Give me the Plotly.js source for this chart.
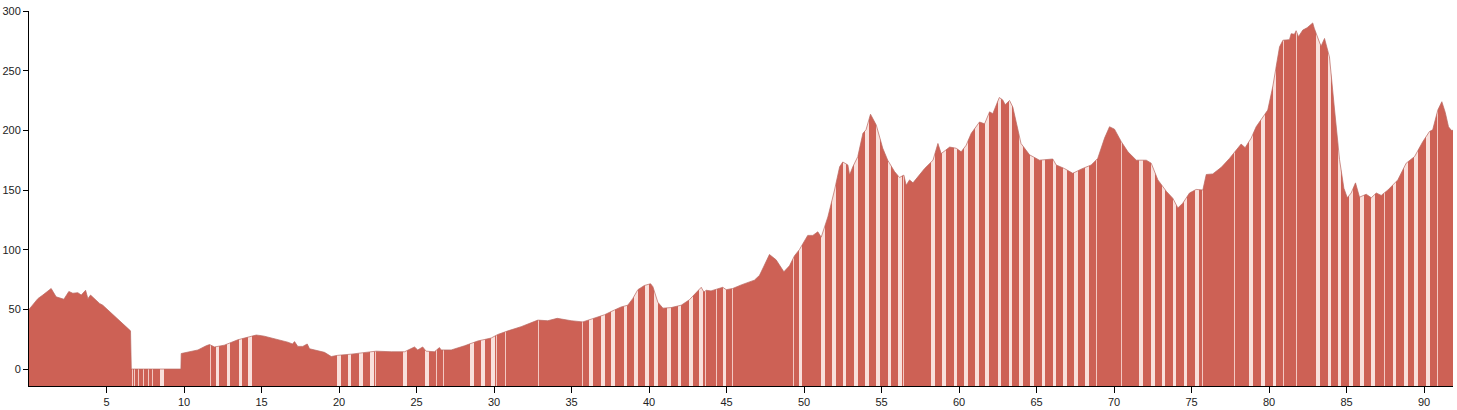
<!DOCTYPE html>
<html>
<head>
<meta charset="utf-8">
<script src="https://cdn.plot.ly/plotly-3.0.1.min.js"></script>
<style>
  html, body { margin: 0; padding: 0; background: #fff; }
  #chart { width: 1457px; height: 410px; }
</style>
</head>
<body>
<div id="chart"></div>
<script>
// Elevation profile (distance km, elevation m)
const distanceKm = [
  0, 0.57, 0.89, 1.21, 1.43, 1.75, 2.25, 2.57, 2.83, 3.15, 3.37, 3.65, 3.8, 3.97, 4.23, 4.55, 4.76,
  6.55, 6.6, 9.8, 9.82, 10.9, 11.43, 11.65, 11.97, 12.6, 13.47, 14.33, 14.66, 14.98,
  15.19, 16.7, 17.0, 17.13, 17.34, 17.66, 17.95, 18.1, 18.63, 19.06, 19.5, 19.92,
  20.79, 21.65, 22.4, 23.37, 24.23, 24.87, 25.08, 25.4, 25.62, 26.16, 26.48, 26.59,
  27.24, 28.1, 28.95, 29.82, 30.25, 30.9, 31.75, 32.83, 33.47, 34.08, 34.98, 35.73,
  36.48, 37.13, 37.77, 38.2, 38.63, 38.95, 39.28, 39.7, 40.1, 40.25, 40.57, 40.9,
  41.43, 42.08, 42.6, 43.05, 43.37, 43.54, 43.69, 44.0, 44.76, 44.98, 45.4, 45.95,
  46.48, 46.8, 47.13, 47.77, 48.2, 48.7, 49.06, 49.39, 49.7, 50.24, 50.57, 50.89,
  51.11, 51.54, 51.97, 52.3, 52.5, 52.83, 52.94, 53.15, 53.47, 53.8, 54.0, 54.29,
  54.66, 55.08, 55.4, 55.84, 56.16, 56.44, 56.59, 56.81, 57.03, 57.78, 58.32, 58.64,
  58.85, 59.4, 59.82, 60.14, 60.46, 60.79, 61.32, 61.65, 61.97, 62.18, 62.6, 62.82,
  62.98, 63.26, 63.47, 64.0, 64.55, 65.19, 66.05, 66.27, 66.8, 67.34, 67.88, 68.53,
  68.95, 69.39, 69.71, 70.03, 70.47, 70.9, 71.44, 72.08, 72.4, 72.83, 73.37, 73.8,
  74.12, 74.44, 74.87, 75.3, 75.73, 75.95, 76.37, 76.92, 77.45, 77.77, 78.2, 78.46,
  78.85, 79.17, 79.7, 79.92, 80.24, 80.68, 80.9, 81.32, 81.43, 81.64, 81.75, 81.9,
  82.18, 82.46, 82.82, 82.92, 83.25, 83.36, 83.58, 83.9, 84.23, 84.55, 84.83, 85.05,
  85.3, 85.58, 85.84, 86.27, 86.6, 86.92, 87.24, 87.67, 88.31, 88.85, 89.39, 89.92,
  90.35, 90.56, 90.89, 91.15, 91.37, 91.58, 91.76, 91.87
];
const elevation = [
  50, 59, 62, 65.5, 67.5, 60.5, 58.5, 65, 63.5, 64, 62, 66, 59, 62, 59, 55, 53.5,
  32, 0, 0, 13, 16, 19.5, 20.5, 18.5, 20, 24.5, 27.5, 28.5, 28,
  27.5, 22.5, 21, 23, 19, 19, 21, 17, 15.5, 14, 10.5, 11.5,
  12.5, 13.5, 15, 14.5, 14.5, 18.5, 16, 18.5, 15, 14.5, 18, 16,
  16, 19.5, 23.5, 26, 29, 32, 35.5, 41, 40.5, 42.5, 40.5, 39.5,
  42.5, 45.5, 49.5, 52, 53.5, 59, 66.5, 70, 71.5, 69, 56, 51,
  51.5, 53.5, 58, 64.5, 68.5, 64.5, 66, 65.5, 68.5, 66.5, 67.5, 70.5,
  73, 74.5, 78.5, 96, 91.5, 81.5, 86.5, 95, 100, 112, 112, 115,
  110.5, 127.5, 150, 169.5, 173.5, 171, 162.5, 169.5, 178, 197.5, 200.5, 213.5,
  204.5, 185, 175, 165.5, 160.5, 162.5, 154, 158.5, 156, 168, 175, 189,
  180.5, 186, 185, 182, 187.5, 197.5, 207, 205.5, 215.5, 214, 227.5, 225.5,
  221.5, 225, 219.5, 189, 179.5, 175, 176, 171, 168, 164, 167.5, 171,
  176.5, 193.5, 203, 201, 190.5, 182, 175, 175, 172.5, 158.5, 149, 143,
  135, 139, 147.5, 150.5, 150, 163, 163.5, 169, 176.5, 182, 188.5, 185.5,
  193.5, 203, 213, 217, 236.5, 270, 275.5, 276, 281, 280.5, 283.5, 278.5,
  284, 286, 290, 285.5, 274, 270.5, 277, 261.5, 217, 175.5, 151.5, 143.5,
  147.5, 156, 144, 146.5, 143.5, 147.5, 145.5, 150, 158.5, 172.5, 178, 190.5,
  199, 200.5, 217, 224, 215, 203, 200, 200
];

// Positions (km) of the pale gaps between profile segments
const wideGapKm = [
  8.58, 12.16, 12.87, 13.65, 14.26,
  20.0, 20.68, 21.43, 22.14, 24.27, 25.69, 28.57, 29.28, 29.92,
  36.27, 37.02, 37.66, 38.48, 39.17, 39.88, 40.46, 41.28, 41.97, 42.72, 43.37, 44.87,
  49.77, 51.21, 51.92, 52.61, 53.37, 54.08, 54.76, 55.52, 56.21,
  58.31, 59.03, 59.76, 60.46, 61.15, 61.82, 62.61, 63.32, 64.01, 64.72, 65.45, 66.16,
  66.85, 67.56, 68.27, 71.75, 72.5, 73.19, 73.9, 74.61, 75.34,
  78.85, 79.6, 80.35, 83.15, 83.9, 84.55, 85.3, 85.99, 86.7, 88.1, 88.85, 89.5, 90.25
];
const thinGapKm = [
  6.65, 6.81, 7.06, 7.41, 7.71, 7.99, 11.71,
  22.35, 26.27, 26.74, 30.18, 30.74, 32.89, 35.73, 43.65, 44.34, 45.41,
  49.34, 56.42, 68.85, 70.5, 75.73, 77.77, 80.95, 81.75, 87.45, 90.89
];

const xTicks = [5, 10, 15, 20, 25, 30, 35, 40, 45, 50, 55, 60, 65, 70, 75, 80, 85, 90];
const yTicks = [0, 50, 100, 150, 200, 250, 300];

const Y_MIN = -14.2, Y_MAX = 300;
const X_END = distanceKm[distanceKm.length - 1];
const FILL = '#cd6155';

const traces = [
  {
    type: 'bar', x: wideGapKm, base: Y_MIN,
    y: wideGapKm.map(() => Y_MAX - Y_MIN), width: 0.23,
    marker: { color: '#f9e0dc', line: { width: 0 } }, hoverinfo: 'skip'
  },
  {
    type: 'bar', x: thinGapKm, base: Y_MIN,
    y: thinGapKm.map(() => Y_MAX - Y_MIN), width: 0.07,
    marker: { color: 'rgba(255,236,232,0.75)', line: { width: 0 } }, hoverinfo: 'skip'
  },
  {
    type: 'scatter', mode: 'lines', x: [0, X_END], y: [Y_MAX, Y_MAX],
    line: { width: 0, color: 'rgba(0,0,0,0)' }, hoverinfo: 'skip'
  },
  {
    type: 'scatter', mode: 'lines', x: distanceKm, y: elevation,
    fill: 'tonexty', fillcolor: '#ffffff',
    line: { color: 'rgba(185,105,98,0.9)', width: 0.8 }, hoverinfo: 'x+y'
  }
];

const axisFont = { family: 'Liberation Sans, Arial, sans-serif', size: 11, color: '#222' };

const layout = {
  width: 1457, height: 410,
  margin: { l: 29, r: 4, t: 11, b: 24, pad: 0 },
  paper_bgcolor: '#ffffff',
  plot_bgcolor: FILL,
  showlegend: false,
  barmode: 'overlay',
  bargap: 0,
  xaxis: {
    range: [0, X_END], tickmode: 'array', tickvals: xTicks,
    showgrid: false, zeroline: false, showline: true, linecolor: '#000', linewidth: 1,
    ticks: 'outside', ticklen: 6, tickcolor: '#000', tickfont: axisFont
  },
  yaxis: {
    range: [Y_MIN, Y_MAX], tickmode: 'array', tickvals: yTicks,
    showgrid: false, zeroline: false, showline: true, linecolor: '#000', linewidth: 1,
    ticks: 'outside', ticklen: 5, tickcolor: '#000', tickfont: axisFont
  }
};

Plotly.newPlot('chart', traces, layout, { displayModeBar: false, staticPlot: true });
</script>
</body>
</html>
